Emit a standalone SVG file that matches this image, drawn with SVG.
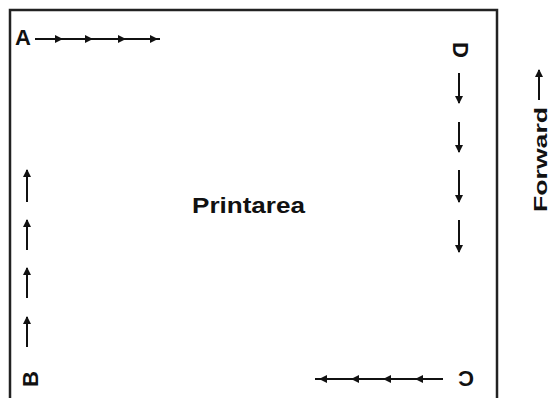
<svg xmlns="http://www.w3.org/2000/svg" width="550" height="398" viewBox="0 0 550 398">
<defs>
<style>
.lbl{font-family:"Liberation Sans",Arial,sans-serif;font-size:22px;font-weight:bold;fill:#111;}
.big{font-family:"Liberation Sans",Arial,sans-serif;font-size:22px;font-weight:bold;fill:#111;}
.ln{stroke:#111;stroke-width:2;fill:none;}
</style>
<marker id="ah" viewBox="0 0 8 8" refX="7" refY="4" markerWidth="8" markerHeight="8" markerUnits="userSpaceOnUse" orient="auto">
<path d="M0,0 L8,4 L0,8 z" fill="#111"/>
</marker>
</defs>
<rect x="10" y="10" width="487" height="400" fill="#fff" stroke="#222" stroke-width="2.5"/>
<g id="connectors">
<polyline class="ln" points="35,39 62,39 92,39 125,39 157,39 160,39" marker-mid="url(#ah)"/>
<polyline class="ln" points="443,379 416,379 384,379 352,379 320,379 315,379" marker-mid="url(#ah)"/>
<line class="ln" x1="459" y1="73" x2="459" y2="103" marker-end="url(#ah)"/>
<line class="ln" x1="459" y1="122" x2="459" y2="152" marker-end="url(#ah)"/>
<line class="ln" x1="459" y1="170" x2="459" y2="202" marker-end="url(#ah)"/>
<line class="ln" x1="459" y1="220" x2="459" y2="252" marker-end="url(#ah)"/>
<line class="ln" x1="27" y1="202" x2="27" y2="170" marker-end="url(#ah)"/>
<line class="ln" x1="27" y1="250" x2="27" y2="220" marker-end="url(#ah)"/>
<line class="ln" x1="27" y1="298" x2="27" y2="268" marker-end="url(#ah)"/>
<line class="ln" x1="27" y1="347" x2="27" y2="317" marker-end="url(#ah)"/>
<line class="ln" x1="539" y1="100" x2="539" y2="70" marker-end="url(#ah)"/>
</g>
<g id="A"><text class="lbl" x="15" y="45">A</text></g>
<g id="D"><text class="lbl" transform="translate(453,42) rotate(90)">D</text></g>
<g id="C"><text class="lbl" transform="translate(474,371) rotate(180)">C</text></g>
<g id="B"><text class="lbl" transform="translate(38,387) rotate(-90)">B</text></g>
<g id="printarea"><text class="big" x="192" y="213" textLength="113" lengthAdjust="spacingAndGlyphs">Printarea</text></g>
<g id="forward"><text class="lbl" font-size="19" transform="translate(547,212) rotate(-90)" textLength="105" lengthAdjust="spacingAndGlyphs" style="font-size:19px">Forward</text></g>
</svg>
